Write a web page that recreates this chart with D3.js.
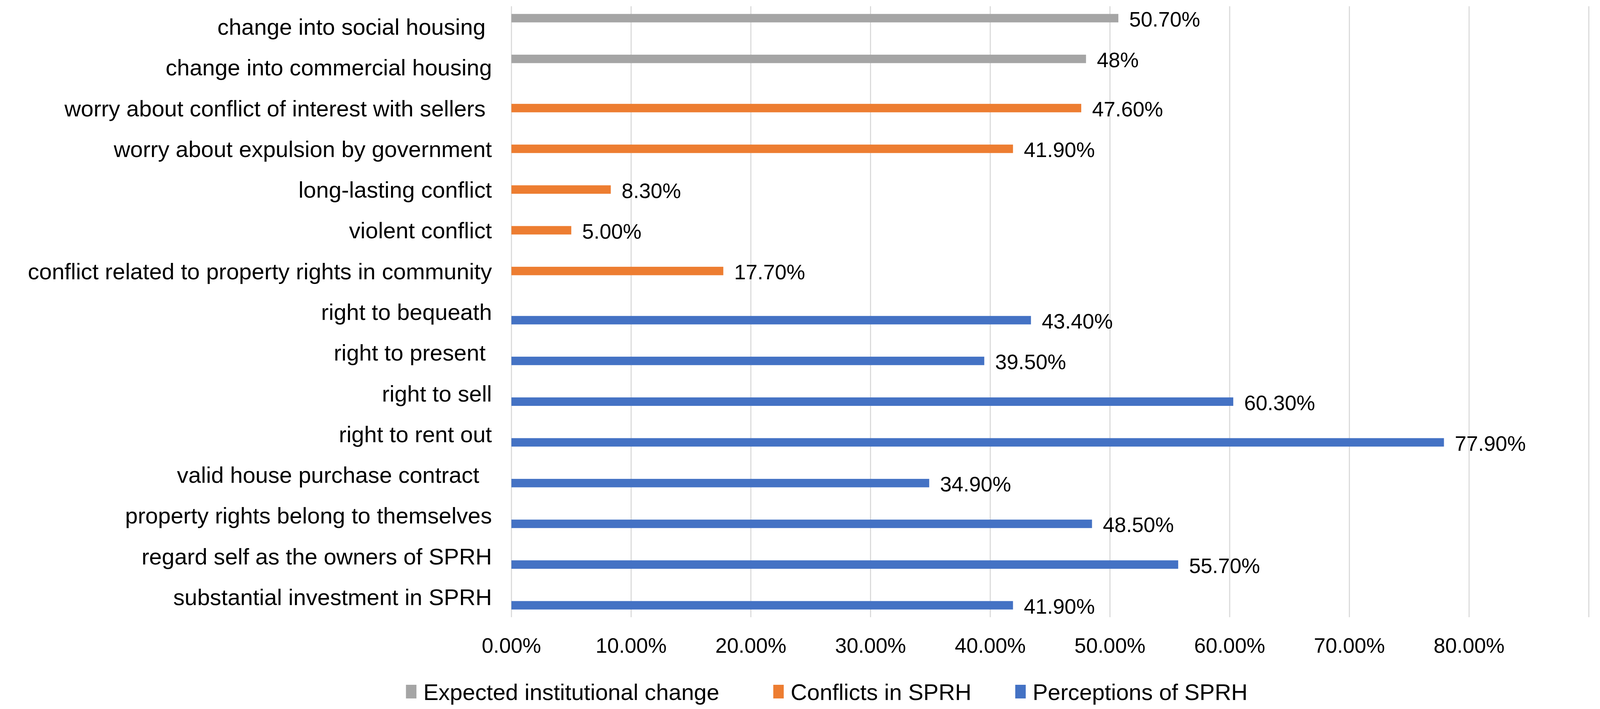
<!DOCTYPE html>
<html>
<head>
<meta charset="utf-8">
<script src="https://cdn.jsdelivr.net/npm/d3@7"></script>
<style>
  html, body { margin: 0; padding: 0; background: #fff; overflow: hidden; }
  #chart { display: block; }
  text { font-family: "Liberation Sans", Arial, sans-serif; fill: #000; white-space: pre; }
</style>
</head>
<body>
<svg id="chart"></svg>
<script>
// Categories, top to bottom (trailing spaces are in the original labels).
const categories = [
  'change into social housing ',
  'change into commercial housing',
  'worry about conflict of interest with sellers ',
  'worry about expulsion by government',
  'long-lasting conflict',
  'violent conflict',
  'conflict related to property rights in community',
  'right to bequeath',
  'right to present ',
  'right to sell',
  'right to rent out',
  'valid house purchase contract  ',
  'property rights belong to themselves',
  'regard self as the owners of SPRH',
  'substantial investment in SPRH'
];

const seriesNames  = [ 'Expected institutional change', 'Conflicts in SPRH', 'Perceptions of SPRH' ];
const seriesColors = [ '#A5A5A5', '#ED7D31', '#4472C4' ];

// One value per category, null where the series has no bar.
const expectedChange = [ 50.7, 48, null, null, null, null, null, null, null, null, null, null, null, null, null ];
const conflicts      = [ null, null, 47.6, 41.9, 8.3, 5.0, 17.7, null, null, null, null, null, null, null, null ];
const perceptions    = [ null, null, null, null, null, null, null, 43.4, 39.5, 60.3, 77.9, 34.9, 48.5, 55.7, 41.9 ];

const valueLabels = [ '50.70%', '48%', '47.60%', '41.90%', '8.30%', '5.00%', '17.70%',
                      '43.40%', '39.50%', '60.30%', '77.90%', '34.90%', '48.50%', '55.70%', '41.90%' ];

const gridValues = [ 0, 10, 20, 30, 40, 50, 60, 70, 80, 90 ];
const tickLabels = [ '0.00%', '10.00%', '20.00%', '30.00%', '40.00%', '50.00%', '60.00%', '70.00%', '80.00%' ];

// Layout is worked out on a 4430 x 1815 frame, then stretched to the real window.
const W  = window.innerWidth  || 4430;
const H  = window.innerHeight || 1815;
const sx = W / 4430;
const sy = H / 1815;
const fs = px => `${px * sx}px`;
const plot = { left: 1416 * sx, right: 4399 * sx, top: 16 * sy, bottom: 1580 * sy };

const svg = d3.select( '#chart' ).attr( 'width', W ).attr( 'height', H );

const x = d3.scaleLinear( ).domain( [ 0, 90 ] ).range( [ plot.left, plot.right ] );

// Excel-like clustered bars: gap width 182%
const gap = 1.82 / 4.82;
const y0 = d3.scaleBand( ).domain( categories ).range( [ plot.top, plot.bottom ] )
  .paddingInner( gap ).paddingOuter( gap / 2 );
const y1 = d3.scaleBand( ).domain( seriesNames ).range( [ 0, y0.bandwidth( ) ] );

// Gridlines
svg.append( 'g' ).selectAll( 'line' ).data( gridValues ).enter( ).append( 'line' )
  .attr( 'x1', d => x( d ) ).attr( 'x2', d => x( d ) )
  .attr( 'y1', plot.top ).attr( 'y2', plot.bottom )
  .attr( 'stroke', '#D9D9D9' ).attr( 'stroke-width', 3 * sx );

// Tick labels
svg.append( 'g' ).selectAll( 'text' ).data( tickLabels ).enter( ).append( 'text' )
  .attr( 'x', ( d, i ) => x( gridValues[ i ] ) )
  .attr( 'y', 1671 * sy )
  .attr( 'text-anchor', 'middle' )
  .style( 'font-size', fs( 58 ) )
  .text( d => d );

// Bars
const allSeries = [ expectedChange, conflicts, perceptions ];
const bars = [];
allSeries.forEach( ( vals, s ) => {
  vals.forEach( ( v, i ) => {
    if ( v !== null ) bars.push( { cat: categories[ i ], series: seriesNames[ s ], color: seriesColors[ s ], value: v, label: valueLabels[ i ] } );
  } );
} );

svg.append( 'g' ).selectAll( 'rect' ).data( bars ).enter( ).append( 'rect' )
  .attr( 'x', x( 0 ) )
  .attr( 'y', d => y0( d.cat ) + y1( d.series ) )
  .attr( 'width', d => x( d.value ) - x( 0 ) )
  .attr( 'height', y1.bandwidth( ) )
  .attr( 'fill', d => d.color );

svg.append( 'g' ).selectAll( 'text' ).data( bars ).enter( ).append( 'text' )
  .attr( 'x', d => x( d.value ) + 30 * sx )
  .attr( 'y', d => y0( d.cat ) + y1( d.series ) + y1.bandwidth( ) / 2 )
  .attr( 'dy', '0.4em' )
  .style( 'font-size', fs( 58 ) )
  .text( d => d.label );

// Category labels
svg.append( 'g' ).selectAll( 'text' ).data( categories ).enter( ).append( 'text' )
  .attr( 'x', 1362 * sx )
  .attr( 'y', d => y0( d ) + y0.bandwidth( ) / 2 )
  .attr( 'dy', '0.36em' )
  .attr( 'text-anchor', 'end' )
  .style( 'font-size', fs( 63 ) )
  .text( d => d );

// Legend
const legendX = [ 1124, 2141, 2811 ];
const legend = svg.append( 'g' ).selectAll( 'g' ).data( seriesNames ).enter( ).append( 'g' )
  .attr( 'transform', ( d, i ) => `translate( ${legendX[ i ] * sx}, ${1753 * sy} )` );
legend.append( 'rect' ).attr( 'width', 29 * sx ).attr( 'height', 35 * sy ).attr( 'fill', ( d, i ) => seriesColors[ i ] );
legend.append( 'text' ).attr( 'x', 48 * sx ).attr( 'y', 18 * sy ).attr( 'dy', '0.36em' )
  .style( 'font-size', fs( 63 ) ).text( d => d );
</script>
</body>
</html>
